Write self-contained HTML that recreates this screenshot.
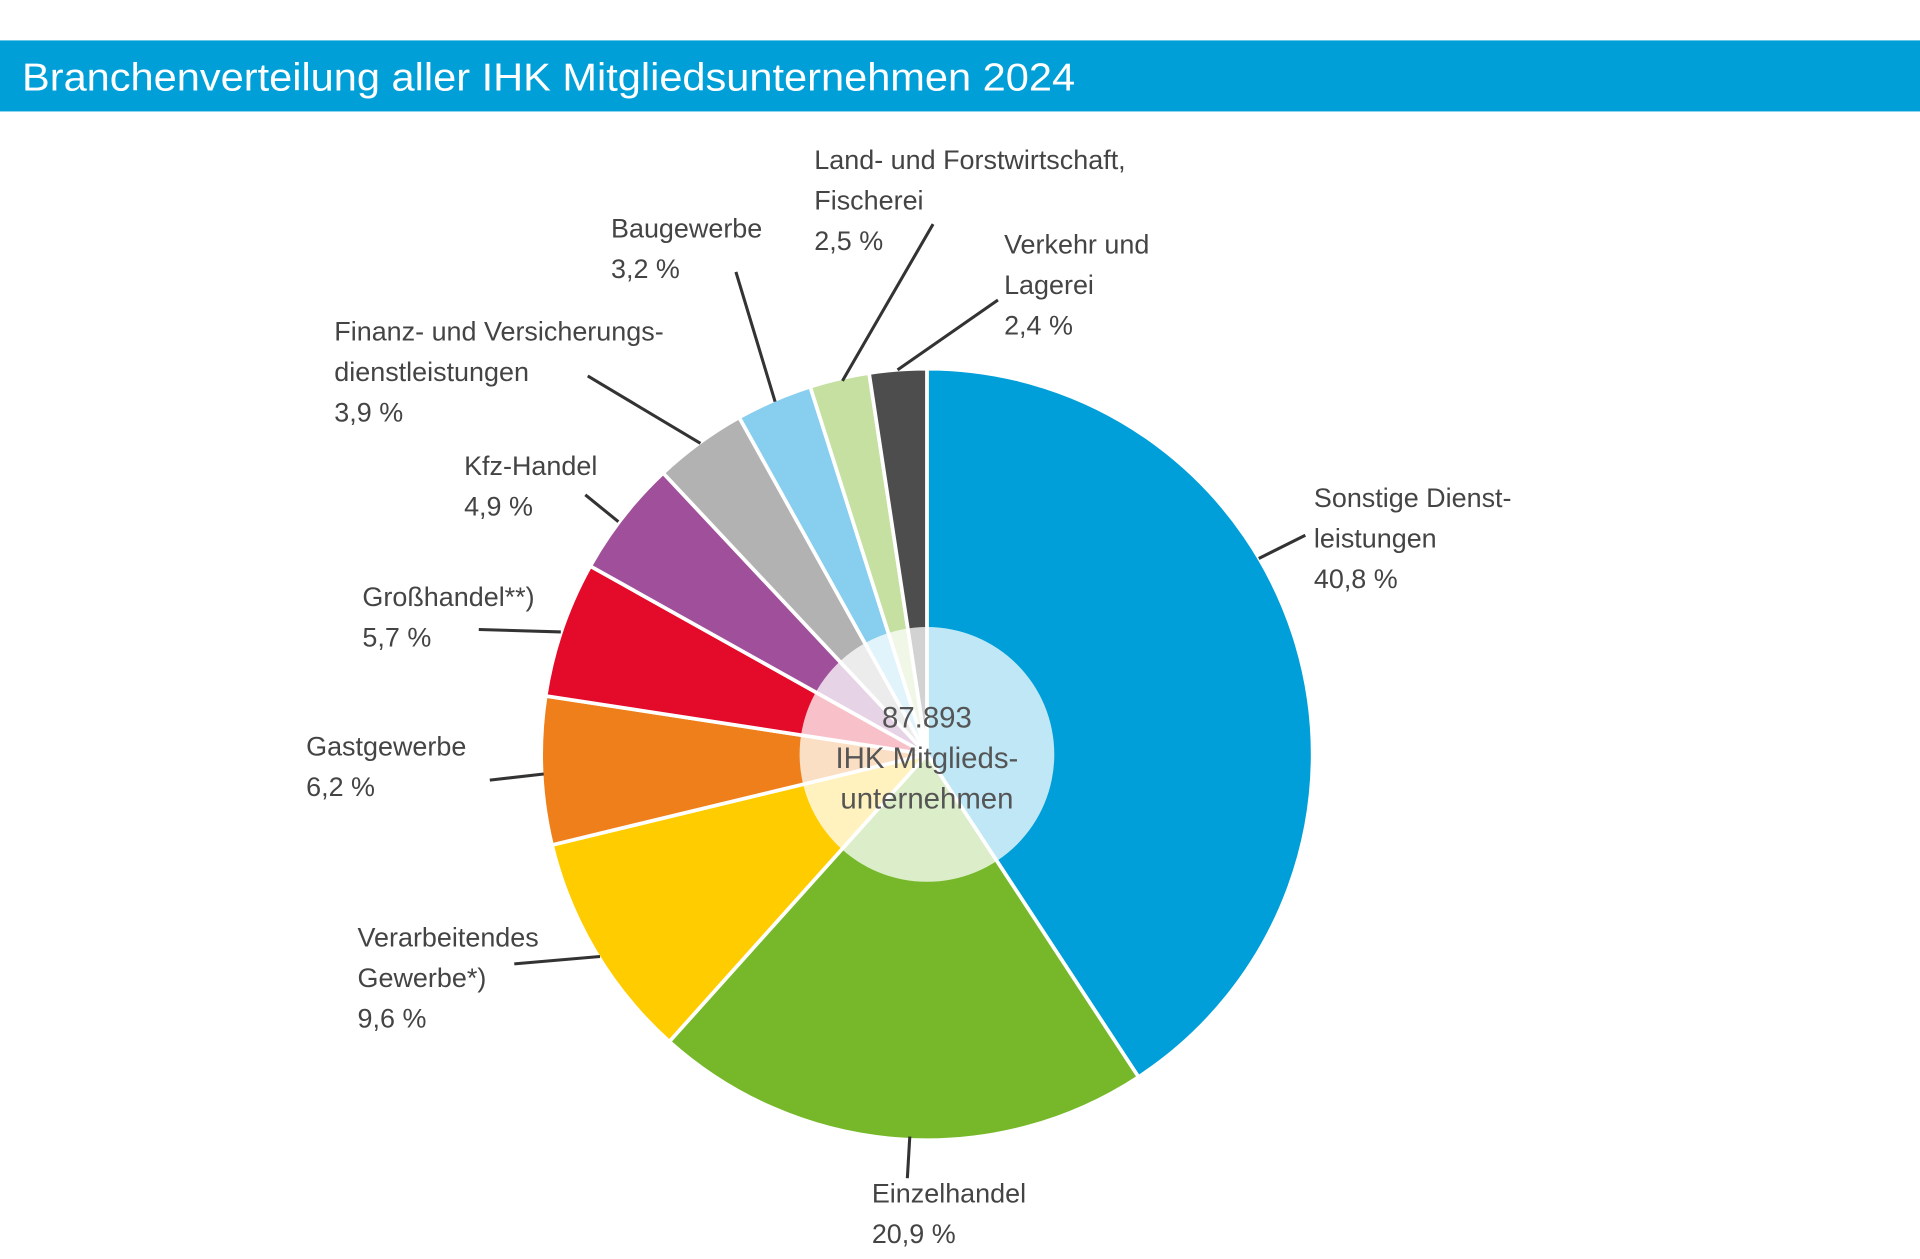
<!DOCTYPE html>
<html><head><meta charset="utf-8"><style>
html,body{margin:0;padding:0;background:#fff}
svg{display:block}
text{font-family:"Liberation Sans",sans-serif}
</style></head><body>
<svg id="chart" width="1920" height="1259" viewBox="0 0 1568 1028" preserveAspectRatio="none" xmlns="http://www.w3.org/2000/svg">
<rect x="0" y="33" width="1568" height="58" fill="#009fd8"/>
<text x="18" y="74" font-size="32" fill="#fff" textLength="860" lengthAdjust="spacingAndGlyphs">Branchenverteilung aller IHK Mitgliedsunternehmen 2024</text>
<g id="slices"></g>
<circle cx="757" cy="616" r="104" fill="#fff" fill-opacity="0.75"/>
<g font-size="24" fill="#555" text-anchor="middle">
<text x="757" y="594">87.893</text>
<text x="757" y="627">IHK Mitglieds-</text>
<text x="757" y="660">unternehmen</text>
</g>
<g id="labels" font-size="22" fill="#444"></g>
<g id="leaders" stroke="#333" stroke-width="2.5"></g>
</svg>
<script>
const categories=["Sonstige Dienstleistungen","Einzelhandel","Verarbeitendes Gewerbe","Gastgewerbe","Großhandel","Kfz-Handel","Finanz- und Versicherungsdienstleistungen","Baugewerbe","Land- und Forstwirtschaft, Fischerei","Verkehr und Lagerei"];
const values=[40.8,20.9,9.6,6.2,5.7,4.9,3.9,3.2,2.5,2.4];
const valueLabels=["40,8 %","20,9 %","9,6 %","6,2 %","5,7 %","4,9 %","3,9 %","3,2 %","2,5 %","2,4 %"];
const colors=["#009fda","#76b82a","#ffcc00","#ee7f1a","#e30a2a","#a0509a","#b2b2b2","#87ceef","#c5e0a0","#4d4d4d"];
const nameLines=[["Sonstige Dienst-","leistungen"],["Einzelhandel"],["Verarbeitendes","Gewerbe*)"],["Gastgewerbe"],["Großhandel**)"],["Kfz-Handel"],["Finanz- und Versicherungs-","dienstleistungen"],["Baugewerbe"],["Land- und Forstwirtschaft,","Fischerei"],["Verkehr und","Lagerei"]];
const labelPos=[[1073,394],[712,962],[292,753],[250,597],[296,475],[379,368],[273,258],[499,174],[665,118],[820,187]];
const leaderPos=[[1028,456,1066,437],[743,928,741,962],[420,787,490,781],[400,637,444,632],[391,514,458,516],[478,404,505,426],[480,307,572,362],[601,222,633,328],[762,183,688,311],[815,245,733,302]];
const NS="http://www.w3.org/2000/svg";
const cx=757,cy=616,r=315;
const total=values.reduce((a,b)=>a+b,0);
function ang(v){return v/total*2*Math.PI;}
function pt(a,rr){return [cx+rr*Math.sin(a),cy-rr*Math.cos(a)];}
let a0=0;
const gS=document.getElementById('slices');
values.forEach((v,i)=>{
  const a1=a0+ang(v);
  const p0=pt(a0,r),p1=pt(a1,r);
  const large=(a1-a0)>Math.PI?1:0;
  const p=document.createElementNS(NS,'path');
  p.setAttribute('d',`M${cx},${cy} L${p0[0]},${p0[1]} A${r},${r} 0 ${large} 1 ${p1[0]},${p1[1]} Z`);
  p.setAttribute('fill',colors[i]);
  p.setAttribute('stroke','#fff');
  p.setAttribute('stroke-width','3');
  
  
  gS.appendChild(p);
  a0=a1;
});
const gL=document.getElementById('labels');
categories.forEach((c,i)=>{
  const t=document.createElementNS(NS,'text');
  
  
  const lines=nameLines[i].concat([valueLabels[i]]);
  lines.forEach((ln,k)=>{
    const ts=document.createElementNS(NS,'tspan');
    ts.setAttribute('x',labelPos[i][0]);
    ts.setAttribute('y',labelPos[i][1]+20+k*33);
    ts.textContent=ln;
    t.appendChild(ts);
  });
  gL.appendChild(t);
});
const gLd=document.getElementById('leaders');
leaderPos.forEach((l,i)=>{
  const ln=document.createElementNS(NS,'line');
  ln.setAttribute('x1',l[0]);ln.setAttribute('y1',l[1]);ln.setAttribute('x2',l[2]);ln.setAttribute('y2',l[3]);
  
  
  gLd.appendChild(ln);
});
</script>
</body></html>
